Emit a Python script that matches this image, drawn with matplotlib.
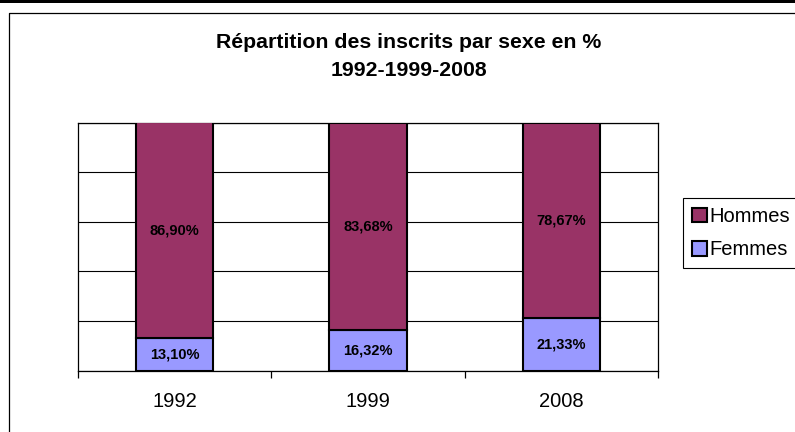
import matplotlib
matplotlib.use("Agg")
import matplotlib.pyplot as plt
from matplotlib.patches import Patch, Rectangle
from matplotlib.lines import Line2D

plt.rcParams['font.family'] = ['Liberation Sans', 'DejaVu Sans']

annees = ['1992', '1999', '2008']
femmes = [13.10, 16.32, 21.33]
hommes = [86.90, 83.68, 78.67]
labels_femmes = ['13,10%', '16,32%', '21,33%']
labels_hommes = ['86,90%', '83,68%', '78,67%']

c_hommes = '#993366'
c_femmes = '#9999FF'

W, H = 795, 432
fig = plt.figure(figsize=(W / 100, H / 100), dpi=100)

# cadre du graphique (style Excel)
fig.patches.append(Rectangle((0, 1 - 3 / H), 1, 3 / H, transform=fig.transFigure,
                             facecolor='black', edgecolor='none'))
fig.lines.append(Line2D([8.5 / W, 8.5 / W, 1.05], [-0.05, 1 - 12.8 / H, 1 - 12.8 / H],
                        transform=fig.transFigure, color='black', linewidth=0.9))

ax = fig.add_axes([78 / W, 1 - 370.7 / H, (658 - 78) / W, (370.7 - 122.5) / H])
x = [0.5, 1.5, 2.5]
b1 = ax.bar(x, femmes, width=0.4, color=c_femmes, edgecolor='black', linewidth=1.5, zorder=3)
b2 = ax.bar(x, hommes, width=0.4, bottom=femmes, color=c_hommes, edgecolor='black',
            linewidth=1.5, zorder=3)
ax.bar_label(b1, labels=labels_femmes, label_type='center', fontsize=10.5, fontweight='bold')
ax.bar_label(b2, labels=labels_hommes, label_type='center', fontsize=10.5, fontweight='bold')

ax.set_xlim(0, 3)
ax.set_ylim(0, 100)
ax.set_yticks([0, 20, 40, 60, 80, 100])
ax.yaxis.grid(True, color='black', linewidth=0.8, zorder=0)
ax.tick_params(axis='y', length=0, labelleft=False)
ax.set_xticks(x)
ax.set_xticklabels(annees, fontsize=14.5)
ax.tick_params(axis='x', which='major', length=0, pad=15.5)
ax.set_xticks([0, 1, 2, 3], minor=True)
ax.tick_params(axis='x', which='minor', length=5, width=0.9, direction='out', color='black')
for s in ax.spines.values():
    s.set_color('black')
    s.set_linewidth(0.9)

fig.text(409 / W, 1 - 48 / H, 'Répartition des inscrits par sexe en %', ha='center',
         va='baseline', fontsize=15.3, fontweight='bold')
fig.text(409 / W, 1 - 76.5 / H, '1992-1999-2008', ha='center', va='baseline',
         fontsize=15.3, fontweight='bold')

handles = [Patch(facecolor=c_hommes, edgecolor='black', linewidth=1.5),
           Patch(facecolor=c_femmes, edgecolor='black', linewidth=1.5)]
leg = fig.legend(handles, ['Hommes', 'Femmes'], loc='upper left',
                 bbox_to_anchor=(683 / W, 1 - 198 / H), fontsize=14.5, frameon=True,
                 fancybox=False, edgecolor='black', framealpha=1,
                 handlelength=0.75, handleheight=0.75, handletextpad=0.1,
                 labelspacing=0.7, borderpad=0.45, borderaxespad=0)
leg.get_frame().set_linewidth(0.8)

fig.savefig('out.png', dpi=100)
